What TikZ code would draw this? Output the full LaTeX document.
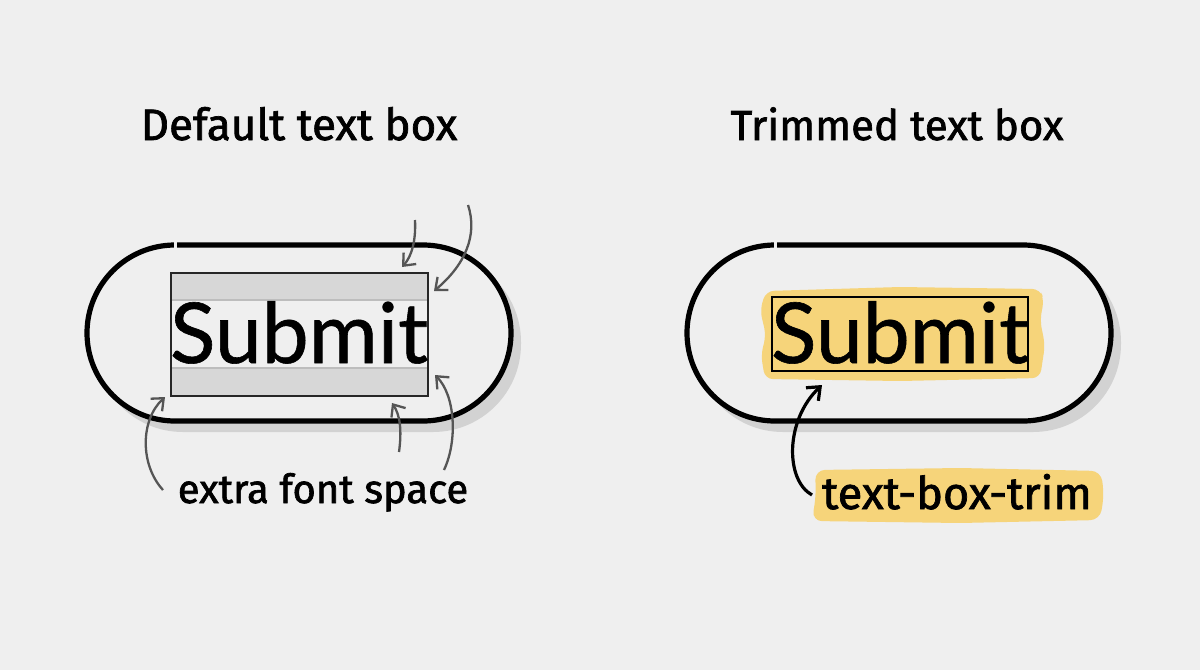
\documentclass[tikz,border=0pt]{standalone}
\usepackage{fontspec}
\setmainfont{Lato}[FakeBold=0.7]
\newfontfamily\handfont{Fira Sans}[FakeBold=1.6]
\usetikzlibrary{arrows.meta}
\definecolor{bg}{HTML}{EFEFEF}
\definecolor{shadowgray}{HTML}{D2D2D2}
\definecolor{bandgray}{HTML}{D7D7D7}
\definecolor{bandline}{HTML}{BDBDBD}
\definecolor{arrowgray}{HTML}{555555}
\definecolor{hiyellow}{HTML}{F6D47A}
\tikzset{
  pill/.style={line width=5.2pt, draw=black, rounded corners=88pt},
  pillshadow/.style={fill=shadowgray, rounded corners=88pt},
  innerbox/.style={draw=black!85, line width=1.6pt},
  btntext/.style={font=\fontsize{84}{90}\selectfont, inner sep=0pt, anchor=base},
  title/.style={font=\handfont\fontsize{44}{50}\selectfont, inner sep=0pt, anchor=base},
  label/.style={font=\handfont\fontsize{40}{46}\selectfont, inner sep=0pt, anchor=base},
  grayarrow/.style={draw=arrowgray, line width=2.3pt, -{Straight Barb[length=10pt,width=17pt,line width=2.3pt]}},
  blackarrow/.style={draw=black, line width=3.2pt, -{Straight Barb[length=11pt,width=18pt,line width=3.2pt]}},
}
\begin{document}
\begin{tikzpicture}[x=1pt,y=-1pt]
\fill[bg] (0,0) rectangle (1200,670);
\useasboundingbox (0,0) rectangle (1200,670);

% ---------- titles ----------
\node[title] (t1) at (299,140) {Default text box};
\node[title, font=\handfont\fontsize{42}{48}\selectfont] (t2) at (897,140) {Trimmed text box};

% ---------- left pill ----------
\fill[pillshadow] (95,254) rectangle (521,432);
\fill[bg, rounded corners=88pt] (87,245) rectangle (511,421);
\draw[pill] (87,245) rectangle (511,421);
\fill[bg] (173.5,240) rectangle (177,250);

% inner box with bands
\fill[bandgray] (171,273) rectangle (428,300);
\fill[bandgray] (171,368) rectangle (428,396);
\draw[bandline, line width=1.2pt] (171,300) -- (428,300);
\draw[bandline, line width=1.2pt] (171,368) -- (428,368);
\draw[innerbox] (171,273) rectangle (428,396);
\node[btntext] (s1) at (299,363) {Submit};

% gray arrows
\coordinate (a1s) at (415,220); \coordinate (a1e) at (402,267);
\coordinate (a2s) at (468,205); \coordinate (a2e) at (434,291);
\coordinate (a3s) at (163,490); \coordinate (a3e) at (165,397);
\coordinate (a4s) at (399,452); \coordinate (a4e) at (392,403);
\coordinate (a5s) at (444,470); \coordinate (a5e) at (435,375);
\draw[grayarrow] (a1s) .. controls (416,240) and (412,256) .. (a1e);
\draw[grayarrow] (a2s) .. controls (478,235) and (465,265) .. (a2e);
\draw[grayarrow] (a3s) .. controls (140,465) and (140,420) .. (a3e);
\draw[grayarrow] (a4s) .. controls (402,430) and (400,415) .. (a4e);
\draw[grayarrow] (a5s) .. controls (458,440) and (455,395) .. (a5e);

\node[label] (l1) at (323,503) {extra font space};

% ---------- right pill ----------
\fill[pillshadow] (695,254) rectangle (1121,432);
\fill[bg, rounded corners=88pt] (687,245) rectangle (1111,421);
\draw[pill] (687,245) rectangle (1111,421);
\fill[bg] (773.5,240) rectangle (777,250);

% yellow highlight
\fill[hiyellow, rounded corners=8pt]
  (766,291) -- (900,287) -- (1040,289) -- (1044,300) -- (1040,320) -- (1045,345)
  -- (1040,378) -- (900,381) -- (765,379) -- (761,355) -- (766,335) -- (760,310) -- cycle;
\draw[black, line width=1.5pt] (772,297) rectangle (1028,371);
\node[btntext] (s2) at (900,363) {Submit};

% label with highlight
\fill[hiyellow, rounded corners=10pt]
  (815,470) -- (960,468) -- (1101,471) -- (1104,495) -- (1100,520) -- (960,523) -- (812,521) -- (816,495) -- cycle;
\node[label, font=\handfont\fontsize{45}{50}\selectfont] (l2) at (957,509) {text-box-trim};

\coordinate (b1s) at (812,495); \coordinate (b1e) at (822,385);
\draw[blackarrow] (b1s) .. controls (785,480) and (785,420) .. (b1e);
\end{tikzpicture}
\end{document}
